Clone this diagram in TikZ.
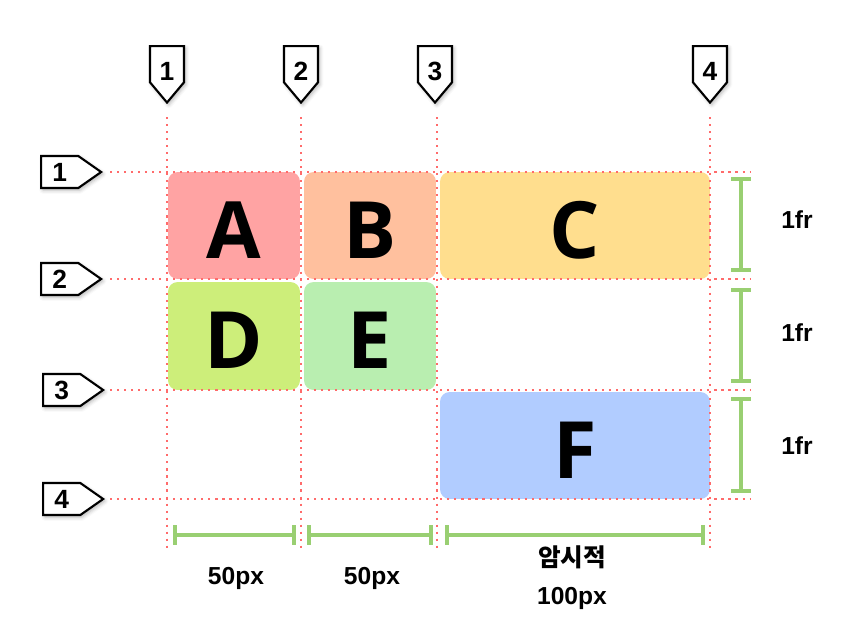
\documentclass[tikz,border=0pt]{standalone}
\usepackage{fontspec}
\setmainfont{Liberation Sans}
\newfontfamily\hangul{Noto Sans CJK KR}
\newfontfamily\cellfont{Open Sans}
\usepackage{tikz}
\usetikzlibrary{shapes.symbols,arrows.meta,shadows.blur}
\definecolor{gridred}{HTML}{FF6B6B}
\definecolor{bargreen}{HTML}{99CF72}
\definecolor{cellA}{HTML}{FFA3A3}
\definecolor{cellB}{HTML}{FFC09E}
\definecolor{cellC}{HTML}{FFDE8E}
\definecolor{cellD}{HTML}{CDEE7A}
\definecolor{cellE}{HTML}{B9EEB0}
\definecolor{cellF}{HTML}{B1CCFF}
\newcommand{\lowdigit}[1]{\raisebox{-4.5pt}{#1}}
\tikzset{
	topsign/.style={
			signal, signal to=south, signal from=nowhere, signal pointer angle=80,
			draw, line width=1.2pt, fill=white, anchor=north, inner sep=0pt,
			minimum width=0.68cm, minimum height=0.9cm,
			text height=10pt, text depth=0pt,
			font=\bfseries\fontsize{15}{15}\selectfont,
			blur shadow={shadow xshift=1pt, shadow yshift=-1.2pt, shadow opacity=30}},
	sidesign/.style={
			signal, signal to=east, signal from=nowhere, signal pointer angle=70,
			draw, line width=1.2pt, fill=white, anchor=east, inner sep=0pt,
			minimum width=1.2cm, minimum height=0.64cm,
			font=\bfseries\fontsize{15}{15}\selectfont,
			blur shadow={shadow xshift=1pt, shadow yshift=-1.2pt, shadow opacity=30}},
	cell/.style={rectangle, rounded corners=5.5pt, inner sep=0pt,
			text height=37pt, text depth=0pt,
			font=\cellfont\bfseries\fontsize{45}{45}\selectfont},
	gridline/.style={gridred, line width=1.2pt, dash pattern=on 1.2pt off 2.8pt},
	dimbar/.style={bargreen, line width=2.3pt, {Bar[width=11pt]}-{Bar[width=11pt]}},
	dimlabel/.style={font=\bfseries\fontsize{14}{21.5}\selectfont, align=center}
}
\begin{document}
\begin{tikzpicture}[x=0.02cm, y=-0.02cm]
    \useasboundingbox (0,0) rectangle (853,633);
    % grid cells
    \node (A) [cell, fill=cellA, minimum width=2.64cm, minimum height=2.14cm] at (234,225.5) {A};
    \node (B) [cell, fill=cellB, minimum width=2.64cm, minimum height=2.14cm] at (370,225.5) {B};
    \node (C) [cell, fill=cellC, minimum width=5.4cm, minimum height=2.14cm] at (575,225.5) {C};
    \node (D) [cell, fill=cellD, minimum width=2.64cm, minimum height=2.16cm] at (234,336) {D};
    \node (E) [cell, fill=cellE, minimum width=2.64cm, minimum height=2.16cm] at (370,336) {E};
    \node (F) [cell, fill=cellF, minimum width=5.4cm, minimum height=2.14cm] at (575,445.5) {F};
    % grid lines
    \draw [gridline] (167,117) -- (167,550);
    \draw [gridline] (301,117) -- (301,550);
    \draw [gridline] (437,117) -- (437,550);
    \draw [gridline] (710,117) -- (710,550);
    \draw [gridline] (110,172) -- (750,172);
    \draw [gridline] (110,279) -- (750,279);
    \draw [gridline] (110,390) -- (750,390);
    \draw [gridline] (110,499) -- (750,499);
    % line numbers
    \node (col1) [topsign] at (167,45) {\lowdigit{1}};
    \node (col2) [topsign] at (301,45) {\lowdigit{2}};
    \node (col3) [topsign] at (435,45) {\lowdigit{3}};
    \node (col4) [topsign] at (710,45) {\lowdigit{4}};
    \node (row1) [sidesign] at (103,172) {1};
    \node (row2) [sidesign] at (103,279) {2};
    \node (row3) [sidesign] at (105,390) {3};
    \node (row4) [sidesign] at (105,499) {4};
    % track sizes
    \draw [dimbar] (173,535) -- (296,535);
    \draw [dimbar] (307,535) -- (433,535);
    \draw [dimbar] (445,535) -- (705,535);
    \draw [dimbar] (741,177) -- (741,272);
    \draw [dimbar] (741,288) -- (741,383);
    \draw [dimbar] (741,397) -- (741,493);
    \node (w1) [dimlabel] at (236,578) {50px};
    \node (w2) [dimlabel] at (372,578) {50px};
    \node (w3) [dimlabel] at (572,578) {{\hangul 암시적}\\100px};
    \node (h1) [dimlabel] at (797,220) {1fr};
    \node (h2) [dimlabel] at (797,333) {1fr};
    \node (h3) [dimlabel] at (797,446) {1fr};
\end{tikzpicture}
\end{document}
